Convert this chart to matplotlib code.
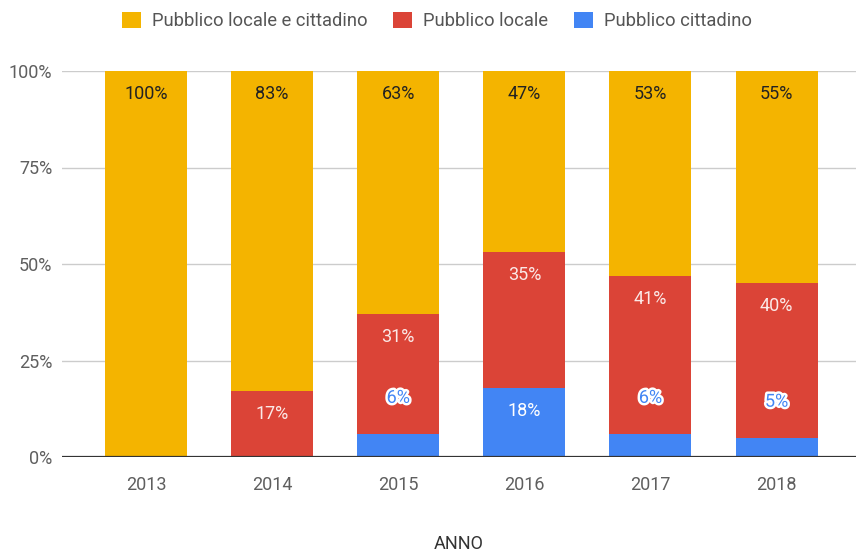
import matplotlib
matplotlib.use("Agg")
import matplotlib.pyplot as plt
from matplotlib.patches import Patch
import matplotlib.patheffects as pe
import numpy as np

plt.rcParams['font.family'] = ['Roboto', 'DejaVu Sans']

anni = ["2013", "2014", "2015", "2016", "2017", "2018"]
cittadino = [0, 0, 6, 18, 6, 5]
locale = [0, 17, 31, 35, 41, 40]
locale_e_cittadino = [100, 83, 63, 47, 53, 55]
y_ticks = [0, 25, 50, 75, 100]
y_tick_labels = ["0%", "25%", "50%", "75%", "100%"]

series = [
    ("Pubblico cittadino", cittadino, "#4285F4"),
    ("Pubblico locale", locale, "#DB4437"),
    ("Pubblico locale e cittadino", locale_e_cittadino, "#F4B400"),
]
label_colors = {"Pubblico cittadino": "#ffffff",
                "Pubblico locale": "#fbe9e7",
                "Pubblico locale e cittadino": "#222222"}

fig = plt.figure(figsize=(8.56, 5.56), dpi=100)
ax = fig.add_axes([62 / 856, 99 / 556, 794 / 856, 386 / 556])

x = np.arange(len(anni))
bottom = np.zeros(len(anni))
width = 0.65
for name, vals, color in series:
    vals = np.array(vals, dtype=float)
    ax.bar(x, vals, width, bottom=bottom, color=color, zorder=3, linewidth=0)
    for xi, v, b in zip(x, vals, bottom):
        if v <= 0:
            continue
        top = b + v
        txt = f"{int(v)}%"
        if v >= 10:
            ax.annotate(txt, (xi, top), xytext=(0, -23), textcoords="offset pixels",
                        ha="center", va="center", fontsize=13,
                        color=label_colors[name], zorder=5)
        else:
            ax.annotate(txt, (xi, top), xytext=(0, 36), textcoords="offset pixels",
                        ha="center", va="center", fontsize=13, color=color, zorder=5,
                        path_effects=[pe.withStroke(linewidth=3.5, foreground="white")])
    bottom += vals

for t in y_ticks[1:]:
    ax.axhline(t, color="#cccccc", linewidth=1, zorder=1)
ax.axhline(0, color="#333333", linewidth=1.6, zorder=4)

ax.set_xlim(-0.666, 5.63)
ax.set_ylim(0, 100)
ax.set_yticks(y_ticks)
ax.set_yticklabels(y_tick_labels)
ax.set_xticks(x)
ax.set_xticklabels(anni)
ax.tick_params(axis="both", length=0, labelsize=13, labelcolor="#5f5f5f")
ax.tick_params(axis="y", pad=7)
ax.tick_params(axis="x", pad=14)
for s in ax.spines.values():
    s.set_visible(False)

ax.set_xlabel("ANNO", fontsize=13, color="#333333", labelpad=29)

handles = [Patch(facecolor=c, edgecolor="none", label=n) for n, _, c in reversed(series)]
fig.legend(handles=handles, loc="center", bbox_to_anchor=(437 / 856, 1 - 21 / 556),
           ncol=3, frameon=False, fontsize=13.2, handlelength=1.04, handleheight=1.0,
           handletextpad=0.6, columnspacing=1.42, labelcolor="#555555",
           borderpad=0, borderaxespad=0)

fig.savefig("out.png", dpi=100)
